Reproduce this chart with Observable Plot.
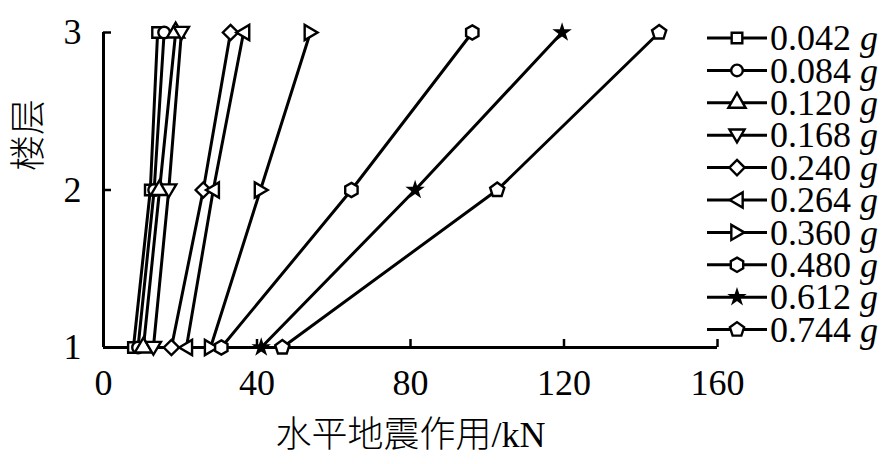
<!DOCTYPE html>
<html>
<head>
<meta charset="utf-8">
<script src="https://cdn.jsdelivr.net/npm/d3@7"></script>
<script src="https://cdn.jsdelivr.net/npm/@observablehq/plot@0.6"></script>
<style>
  html, body { margin: 0; padding: 0; background: #fff; }
  #chart svg { display: block; }
</style>
</head>
<body>
<div id="chart"></div>
<script>
// ---- data ----
const floors = [1, 2, 3];
const floorTicks = [1, 2, 3];
const forceTicks = [0, 40, 80, 120, 160];
const series = ["0.042", "0.084", "0.120", "0.168", "0.240", "0.264", "0.360", "0.480", "0.612", "0.744"];
const s042 = [7.8, 12.2, 14.1];
const s084 = [9.0, 13.2, 15.8];
const s120 = [10.4, 14.6, 18.8];
const s168 = [13.0, 17.0, 20.3];
const s240 = [17.7, 26.0, 33.1];
const s264 = [21.6, 28.6, 36.5];
const s360 = [27.9, 40.9, 53.9];
const s480 = [30.7, 64.6, 96.1];
const s612 = [41.1, 81.2, 119.5];
const s744 = [46.6, 102.6, 144.8];
const values = [s042, s084, s120, s168, s240, s264, s360, s480, s612, s744];
const xLabel = "水平地震作用/kN";
const yLabel = "楼层";
const unit = "g";

const rows = series.flatMap((s, i) => floors.map((f, j) => ({series: s, floor: f, force: values[i][j]})));

// ---- custom symbols ----
const poly = (pts) => ({
  draw(ctx, size) {
    const r = Math.sqrt(size / Math.PI);
    pts.forEach(([a, b], i) => i ? ctx.lineTo(a * r, b * r) : ctx.moveTo(a * r, b * r));
    ctx.closePath();
  }
});
const ngon = (n, rad) => poly(d3.range(n).map(k => {
  const a = -Math.PI / 2 + k * 2 * Math.PI / n;
  return [rad * Math.cos(a), rad * Math.sin(a)];
}));
const triDown = poly([[0, 1.15], [-1.2, -0.9], [1.2, -0.9]]);
const triLeft = poly([[-1.15, 0], [0.9, -1.2], [0.9, 1.2]]);
const triRight = poly([[1.15, 0], [-0.9, -1.2], [-0.9, 1.2]]);
const hexagon = ngon(6, 1.1);
const pentagon = ngon(5, 1.15);
const symbols = [d3.symbolSquare, d3.symbolCircle, d3.symbolTriangle, triDown, d3.symbolDiamond2, triLeft, triRight, hexagon, d3.symbolStar, pentagon];
const fills = ["white", "white", "white", "white", "white", "white", "white", "white", "black", "white"];
const radii = [6, 5.8, 6.4, 6.3, 6.9, 6.3, 6.3, 6.5, 3.8, 6.5];

const W = 894, H = 464;
const mL = 103, mR = 177, mT = 32, mB = 117;

const marks = [
  Plot.axisX(forceTicks, {tickSize: -8, tickPadding: 30, strokeWidth: 2.5, fontSize: 36, label: null, tickFormat: d3.format("d")}),
  Plot.axisY(floorTicks, {tickSize: -8, tickPadding: 30, strokeWidth: 2.5, fontSize: 36, label: null, tickFormat: d3.format("d")}),
  Plot.ruleX([0], {stroke: "black", strokeWidth: 3}),
  Plot.ruleY([1], {stroke: "black", strokeWidth: 3}),
  ...series.map(s => Plot.line(rows.filter(d => d.series === s), {x: "force", y: "floor", stroke: "black", strokeWidth: 3})),
  ...series.map((s, i) => Plot.dot(rows.filter(d => d.series === s), {
    x: "force", y: "floor", symbol: symbols[i], r: radii[i],
    fill: fills[i], stroke: "black", strokeWidth: 2.4
  })),
  Plot.text([xLabel], {frameAnchor: "bottom", dy: 88, text: d => d, fontSize: 36, lineAnchor: "middle",
    fontFamily: "'Liberation Serif', 'Noto Sans CJK SC'", fontWeight: 300}),
  Plot.text([yLabel], {frameAnchor: "left", dx: -74, dy: -19, rotate: -90, text: d => d, fontSize: 36, lineAnchor: "middle",
    fontFamily: "'Noto Sans CJK SC'", fontWeight: 300})
];

const chart = Plot.plot({
  width: W, height: H,
  marginLeft: mL, marginRight: mR, marginTop: mT, marginBottom: mB,
  style: {fontFamily: "'Liberation Serif', 'Times New Roman', serif", fontSize: "36px", color: "black", background: "white"},
  x: {domain: [0, 160], label: null},
  y: {domain: [1, 3], label: null},
  marks
});

// ---- legend ----
const svg = d3.select(chart);
const lg = svg.append("g").attr("class", "legend").attr("text-anchor", "start");
const lx0 = 707, lx1 = 767, ly0 = 38, lstep = 32.4;
series.forEach((s, i) => {
  const y = ly0 + i * lstep;
  const g = lg.append("g").attr("transform", `translate(0,${y})`);
  g.append("line").attr("x1", lx0).attr("x2", lx1).attr("y1", 0).attr("y2", 0)
    .attr("stroke", "black").attr("stroke-width", 3);
  g.append("path").attr("transform", `translate(${(lx0 + lx1) / 2},0)`)
    .attr("d", d3.symbol(symbols[i], radii[i] * radii[i] * Math.PI)())
    .attr("fill", fills[i]).attr("stroke", "black").attr("stroke-width", 2.4);
  const t = g.append("text").attr("x", lx1 + 3).attr("y", 0).attr("dy", "0.34em")
    .attr("text-anchor", "start")
    .attr("font-family", "'Liberation Serif', serif").attr("font-size", 36).attr("fill", "black");
  t.append("tspan").text(s + " ");
  t.append("tspan").attr("font-style", "italic").text(unit);
});

document.getElementById("chart").appendChild(chart);
</script>
</body>
</html>
